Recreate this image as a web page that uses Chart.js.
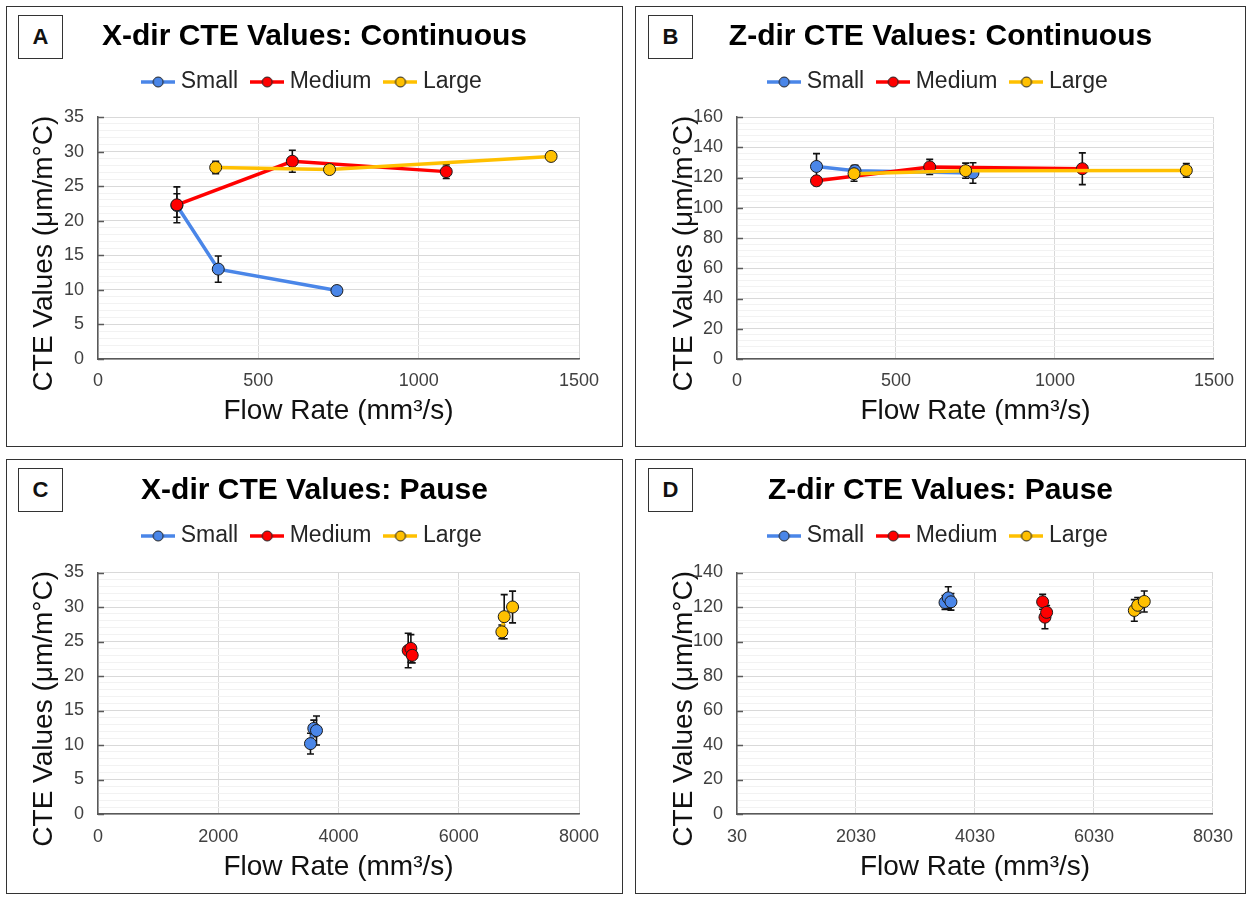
<!DOCTYPE html>
<html>
<head>
<meta charset="utf-8">
<script src="https://cdn.jsdelivr.net/npm/chart.js@4.4.1/dist/chart.umd.min.js"></script>
<style>
  body { margin: 0; background: #fff; width: 1252px; height: 898px; position: relative; overflow: hidden; }
  canvas { position: absolute; }
  .frame { position: absolute; box-sizing: border-box; border: 1.5px solid #333; }
  .tag { position: absolute; box-sizing: border-box; border: 1.5px solid #333; width: 45px; height: 44px;
         font: bold 22px 'Liberation Sans', Arial, sans-serif; text-align: center; line-height: 41px; color: #111; }
</style>
</head>
<body>
<div class="frame" style="left:6px;top:6px;width:617px;height:441px"></div>
<div class="frame" style="left:635px;top:6px;width:611px;height:441px"></div>
<div class="frame" style="left:6px;top:459px;width:617px;height:435px"></div>
<div class="frame" style="left:635px;top:459px;width:611px;height:435px"></div>
<div class="tag" style="left:18px;top:15px">A</div>
<div class="tag" style="left:648px;top:15px">B</div>
<div class="tag" style="left:18px;top:468px">C</div>
<div class="tag" style="left:648px;top:468px">D</div>
<canvas id="chartA" width="615" height="439" style="left:7px;top:7px"></canvas>
<canvas id="chartB" width="609" height="439" style="left:636px;top:7px"></canvas>
<canvas id="chartC" width="615" height="433" style="left:7px;top:460px"></canvas>
<canvas id="chartD" width="609" height="433" style="left:636px;top:460px"></canvas>
<script>
// series names
const sizes = ['Small', 'Medium', 'Large'];

// A: X-dir, continuous
const aSmallX = [246, 375, 745];
const aSmallY = [22.2, 13.0, 9.9];
const aSmallErr = [1.7, 1.9, 0.6];
const aMediumX = [246, 606, 1086];
const aMediumY = [22.3, 28.6, 27.1];
const aMediumErr = [2.6, 1.6, 1.0];
const aLargeX = [367, 722, 1413];
const aLargeY = [27.7, 27.4, 29.3];
const aLargeErr = [0.9, 0.4, 0.3];

// B: Z-dir, continuous
const bSmallX = [250, 371, 742];
const bSmallY = [127.3, 124.5, 123.0];
const bSmallErr = [8.5, 3.5, 6.8];
const bMediumX = [250, 606, 1086];
const bMediumY = [117.8, 127.0, 125.8];
const bMediumErr = [3.0, 5.0, 10.5];
const bLargeX = [368, 719, 1413];
const bLargeY = [122.5, 124.5, 124.7];
const bLargeErr = [5.0, 5.0, 4.5];

// C: X-dir, pause
const cSmallX = [3534, 3589, 3634];
const cSmallY = [10.2, 12.4, 12.1];
const cSmallErr = [1.5, 1.2, 2.1];
const cMediumX = [5159, 5204, 5226];
const cMediumY = [23.7, 24.0, 23.0];
const cMediumErr = [2.5, 2.0, 1.1];
const cLargeX = [6717, 6756, 6895];
const cLargeY = [26.4, 28.6, 30.0];
const cLargeErr = [1.0, 3.2, 2.3];

// D: Z-dir, pause
const dSmallX = [3526, 3581, 3626];
const dSmallY = [122.6, 125.3, 123.0];
const dSmallErr = [4.0, 6.4, 4.8];
const dMediumX = [5167, 5206, 5234];
const dMediumY = [123.0, 114.1, 116.9];
const dMediumErr = [4.3, 6.7, 4.0];
const dLargeX = [6708, 6765, 6875];
const dLargeY = [118.0, 121.0, 123.2];
const dLargeErr = [6.3, 4.5, 6.1];

const colors = ['#4a86e8', '#ff0000', '#ffc000'];

Chart.defaults.font.family = "'Liberation Sans', Arial, sans-serif";

function legendMarker(color) {
  const c = document.createElement('canvas');
  c.width = 34; c.height = 14;
  const g = c.getContext('2d');
  g.strokeStyle = color; g.lineWidth = 3.5;
  g.beginPath(); g.moveTo(0, 7); g.lineTo(34, 7); g.stroke();
  g.beginPath(); g.arc(17, 7, 5, 0, Math.PI * 2);
  g.fillStyle = color; g.fill();
  g.lineWidth = 1; g.strokeStyle = '#222'; g.stroke();
  return c;
}
const markers = colors.map(legendMarker);

const errorBars = {
  id: 'errorBars',
  beforeDatasetsDraw(chart) {
    const ys = chart.scales.y, g = chart.ctx;
    g.save();
    g.strokeStyle = '#111';
    g.lineWidth = 1.6;
    chart.data.datasets.forEach((ds, i) => {
      const meta = chart.getDatasetMeta(i);
      ds.err.forEach((e, j) => {
        const p = meta.data[j];
        const top = ys.getPixelForValue(ds.data[j].y + e);
        const bot = ys.getPixelForValue(ds.data[j].y - e);
        g.beginPath();
        g.moveTo(p.x, top); g.lineTo(p.x, bot);
        g.moveTo(p.x - 3.5, top); g.lineTo(p.x + 3.5, top);
        g.moveTo(p.x - 3.5, bot); g.lineTo(p.x + 3.5, bot);
        g.stroke();
      });
    });
    g.restore();
  }
};

// short inward tick marks on the value axis
const innerTicks = {
  id: 'innerTicks',
  afterDraw(chart, args, opts) {
    const ys = chart.scales.y, g = chart.ctx, left = chart.chartArea.left;
    g.save();
    g.strokeStyle = '#595959';
    g.lineWidth = 1.5;
    ys.ticks.forEach(t => {
      if (t.value % opts.major !== 0) return;
      const y = Math.round(ys.getPixelForValue(t.value)) + 0.5;
      g.beginPath(); g.moveTo(left, y); g.lineTo(left + 6, y); g.stroke();
    });
    g.restore();
  }
};

function buildPanel(id, p) {
  const series = [
    [p.sx, p.sy, p.se], [p.mx, p.my, p.me], [p.lx, p.ly, p.le]
  ];
  const datasets = series.map((s, i) => ({
    label: sizes[i],
    data: s[0].map((x, k) => ({ x: x, y: s[1][k] })),
    err: s[2],
    showLine: true,
    borderColor: colors[i],
    backgroundColor: colors[i],
    borderWidth: 3.5,
    pointRadius: 6,
    pointBackgroundColor: colors[i],
    pointBorderColor: '#1a1a1a',
    pointBorderWidth: 1,
    order: 2 - i
  }));
  new Chart(document.getElementById(id), {
    type: 'scatter',
    data: { datasets: datasets },
    plugins: [errorBars, innerTicks],
    options: {
      responsive: false,
      animation: false,
      layout: { padding: 0 },
      plugins: {
        innerTicks: { major: p.yMajor },
        tooltip: { enabled: false },
        title: {
          display: true, text: p.title, color: '#000',
          font: { size: 30, weight: 'bold', lineHeight: 1 },
          padding: { top: p.titleTop, bottom: 0.5 }
        },
        subtitle: {
          display: true, text: ' ', weight: 500,
          font: { size: p.gap, lineHeight: 1 },
          padding: 0
        },
        legend: {
          position: 'top',
          labels: {
            usePointStyle: true,
            pointStyleWidth: 22,
            padding: 18,
            color: '#262626',
            font: { size: 23 },
            sort: (a, b) => a.datasetIndex - b.datasetIndex,
            generateLabels(chart) {
              const items = Chart.defaults.plugins.legend.labels.generateLabels(chart);
              items.forEach(it => { it.pointStyle = markers[it.datasetIndex]; });
              return items;
            }
          }
        }
      },
      scales: {
        x: {
          type: 'linear', min: p.xMin, max: p.xMax,
          ticks: { stepSize: p.xStep, color: '#404040', font: { size: 18 }, padding: p.xTickPad, callback: v => String(v) },
          grid: { color: '#d9d9d9', drawTicks: false },
          border: { color: '#595959', width: 1.5 },
          title: {
            display: true, text: 'Flow Rate (mm³/s)', color: '#111',
            font: { size: 28 }, padding: { top: 0, bottom: p.xTitleBottom }
          },
          afterFit(s) { s.height = p.xHeight; }
        },
        y: {
          min: 0, max: p.yMax,
          ticks: {
            stepSize: p.yMinor, autoSkip: false, maxTicksLimit: 100,
            color: '#404040', font: { size: 18 }, padding: 14,
            callback: v => (v % p.yMajor === 0 ? String(v) : '')
          },
          grid: {
            drawTicks: false,
            color: c => (c.tick && c.tick.value % p.yMajor === 0 ? '#d9d9d9' : '#f2f2f2')
          },
          border: { color: '#595959', width: 1.5 },
          title: {
            display: true, text: 'CTE Values (μm/m°C)    ', color: '#111',
            font: { size: 28 }, padding: { top: p.yTitleTop, bottom: 0 }
          },
          afterFit(s) { s.width = p.yWidth; }
        },
        // empty right-hand box keeps the plot clear of the frame edge
        yPad: {
          position: 'right', display: true,
          grid: { display: false }, border: { display: false },
          ticks: { display: false },
          afterFit(s) { s.width = p.padRight; }
        }
      }
    }
  });
}

buildPanel('chartA', {
  title: 'X-dir CTE Values: Continuous',
  sx: aSmallX, sy: aSmallY, se: aSmallErr,
  mx: aMediumX, my: aMediumY, me: aMediumErr,
  lx: aLargeX, ly: aLargeY, le: aLargeErr,
  xMin: 0, xMax: 1500, xStep: 500, yMax: 35, yMajor: 5, yMinor: 1,
  yWidth: 91, xHeight: 87, padRight: 43, titleTop: 15, gap: 13.5,
  xTickPad: 11, xTitleBottom: 18, yTitleTop: 20
});
buildPanel('chartB', {
  title: 'Z-dir CTE Values: Continuous',
  sx: bSmallX, sy: bSmallY, se: bSmallErr,
  mx: bMediumX, my: bMediumY, me: bMediumErr,
  lx: bLargeX, ly: bLargeY, le: bLargeErr,
  xMin: 0, xMax: 1500, xStep: 500, yMax: 160, yMajor: 20, yMinor: 4,
  yWidth: 101, xHeight: 87, padRight: 28, titleTop: 15, gap: 13.5,
  xTickPad: 11, xTitleBottom: 18, yTitleTop: 31
});
buildPanel('chartC', {
  title: 'X-dir CTE Values: Pause',
  sx: cSmallX, sy: cSmallY, se: cSmallErr,
  mx: cMediumX, my: cMediumY, me: cMediumErr,
  lx: cLargeX, ly: cLargeY, le: cLargeErr,
  xMin: 0, xMax: 8000, xStep: 2000, yMax: 35, yMajor: 5, yMinor: 1,
  yWidth: 91, xHeight: 79, padRight: 43, titleTop: 16, gap: 15,
  xTickPad: 12, xTitleBottom: 9, yTitleTop: 20
});
buildPanel('chartD', {
  title: 'Z-dir CTE Values: Pause',
  sx: dSmallX, sy: dSmallY, se: dSmallErr,
  mx: dMediumX, my: dMediumY, me: dMediumErr,
  lx: dLargeX, ly: dLargeY, le: dLargeErr,
  xMin: 30, xMax: 8030, xStep: 2000, yMax: 140, yMajor: 20, yMinor: 4,
  yWidth: 101, xHeight: 79, padRight: 28, titleTop: 16, gap: 15,
  xTickPad: 12, xTitleBottom: 9, yTitleTop: 31
});
</script>
</body>
</html>
